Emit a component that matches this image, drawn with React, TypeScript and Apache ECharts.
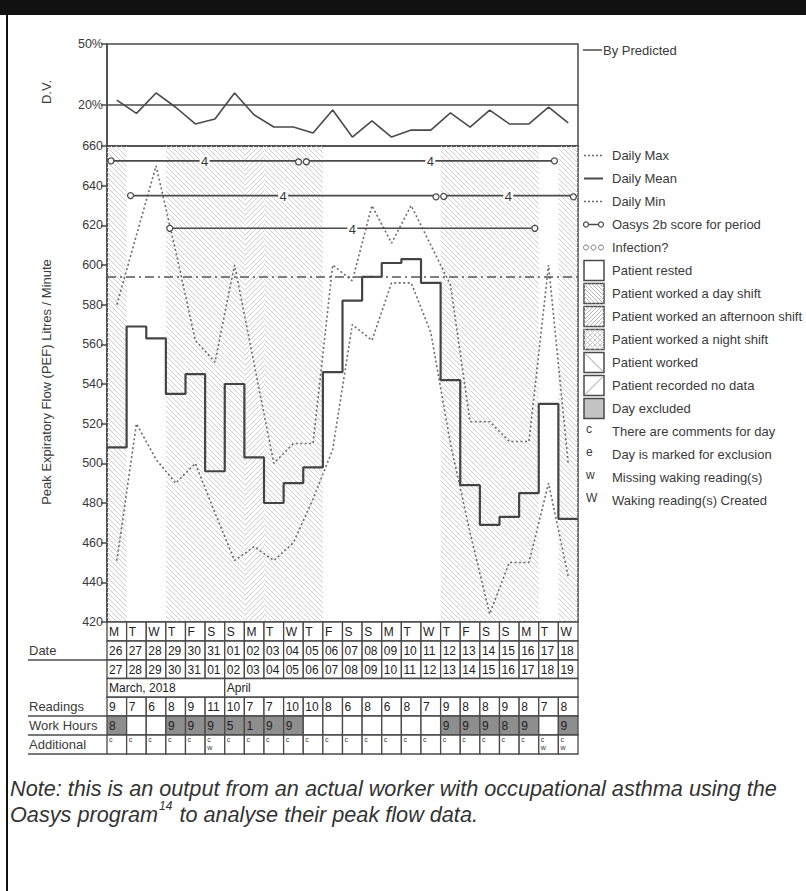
import React, { useEffect, useRef } from 'react';
import * as echarts from 'echarts';

// ---------- data ----------
const dayLetters = ['M','T','W','T','F','S','S','M','T','W','T','F','S','S','M','T','W','T','F','S','S','M','T','W'];
const dateFrom = ['26','27','28','29','30','31','01','02','03','04','05','06','07','08','09','10','11','12','13','14','15','16','17','18'];
const dateTo = ['27','28','29','30','31','01','02','03','04','05','06','07','08','09','10','11','12','13','14','15','16','17','18','19'];
const monthLabels = ['March, 2018', 'April'];
const monthStart = [0, 6];
const monthSpan = [6, 18];
const readings = [9,7,6,8,9,11,10,7,7,10,10,8,6,8,6,8,7,9,8,8,9,8,7,8];
const workHours: (number | null)[] = [8,null,null,9,9,9,5,1,9,9,null,null,null,null,null,null,null,9,9,9,8,9,null,9];
const additionalNotes = ['c','c','c','c','c','cw','c','c','c','c','c','c','c','c','c','c','c','c','c','c','c','c','cw','cw'];
const shifts = ['day','rest','rest','day','day','day','day','afternoon','day','day','day','rest','rest','rest','rest','rest','rest','day','day','day','day','day','rest','day'];
const dvPercent = [22.5,16,26,19,10.8,13.2,26,15.2,9.3,9.3,6.4,17.6,4.4,12.3,4.4,7.8,7.8,16.2,9.3,17.6,10.8,10.8,19.1,11.3];
const dailyMax = [580,615,650,607,562,551,600,550,500,510,510,600,592,630,611,630,610,590,521,521,511,511,600,500];
const dailyMean = [508,569,563,535,545,496,540,503,480,490,498,546,582,594,601,603,591,542,489,469,473,485,530,472];
const dailyMin = [451,520,502,490,500,475,451,458,451,460,482,507,570,562,591,591,566,510,465,424,450,450,490,443];
const oasysStart = [0.2, 10.15, 1.2, 17.15, 3.2];
const oasysEnd = [9.75, 22.8, 16.75, 23.75, 21.8];
const oasysLevel = [652.5, 652.5, 635, 635, 618.5];
const oasysScore = [4, 4, 4, 4, 4];
const thresholdPEF = 594;
const dvTicks = [20, 50];
const dvRefLine = 20;
const pefTicksMin = 420;
const pefTicksMax = 660;

// ---------- layout ----------
const L = 107, W = 471;
const TOP1 = 44, H1 = 102, TOP2 = 146, H2 = 476;
const ROWS = [622, 641, 660, 678.5, 697, 716, 735, 754];
const FONT = 'Liberation Sans, Arial, sans-serif';
const NOTE_FAMILY = '"Liberation Sans", Arial, sans-serif';
const INK = '#3a3a3a';
const LINE = '#4a4a4a';
const HATCH = '#cdcdcd';
const GAP = 5;
const NOTE_TARGET_W = 767;

function measure(text: string, font: string) {
  try {
    const ctx = document.createElement('canvas').getContext('2d')!;
    ctx.font = font;
    return ctx.measureText(text).width;
  } catch (e) {
    return text.length * 9;
  }
}

function hatch(x0: number, y0: number, x1: number, y1: number, dir: number, s: number, color = HATCH) {
  const out: any[] = [];
  if (dir === 1) {
    const ks = Math.ceil((y0 - x1) / s), ke = Math.floor((y1 - x0) / s);
    for (let k = ks; k <= ke; k++) {
      const c = k * s;
      const xa = Math.max(x0, y0 - c), xb = Math.min(x1, y1 - c);
      if (xb > xa) out.push({ type: 'line', silent: true, shape: { x1: xa, y1: xa + c, x2: xb, y2: xb + c }, style: { stroke: color, lineWidth: 1 } });
    }
  } else {
    const ks = Math.ceil((y0 + x0) / s), ke = Math.floor((y1 + x1) / s);
    for (let k = ks; k <= ke; k++) {
      const c = k * s;
      const xa = Math.max(x0, c - y1), xb = Math.min(x1, c - y0);
      if (xb > xa) out.push({ type: 'line', silent: true, shape: { x1: xa, y1: c - xa, x2: xb, y2: c - xb }, style: { stroke: color, lineWidth: 1 } });
    }
  }
  return out;
}

function txt(text: string, x: number, y: number, size = 13, extra: any = {}) {
  return { type: 'text', silent: true, x, y, style: { text, fill: INK, font: `${size}px ${FONT}`, textAlign: 'left', textVerticalAlign: 'middle', ...extra } };
}

function buildGraphic() {
  const g: any[] = [];
  g.push({ type: 'rect', shape: { x: 0, y: 0, width: 806, height: 15 }, style: { fill: '#111' } });
  g.push({ type: 'line', shape: { x1: 7, y1: 15, x2: 7, y2: 891 }, style: { stroke: '#111', lineWidth: 2 } });
  g.push(txt('D.V.', 46, 92, 13, { textAlign: 'center' }));
  g[g.length - 1].rotation = Math.PI / 2;
  g.push(txt('Peak Expiratory Flow (PEF) Litres / Minute', 46, 382, 13, { textAlign: 'center' }));
  g[g.length - 1].rotation = Math.PI / 2;
  const labelRows = [
    { t: 'Date', y: (ROWS[1] + ROWS[2]) / 2, u: ROWS[2] },
    { t: 'Readings', y: (ROWS[4] + ROWS[5]) / 2, u: ROWS[5] },
    { t: 'Work Hours', y: (ROWS[5] + ROWS[6]) / 2, u: ROWS[6] },
    { t: 'Additional', y: (ROWS[6] + ROWS[7]) / 2, u: ROWS[7] },
  ];
  labelRows.forEach(r => {
    g.push(txt(r.t, 29, r.y, 13));
    g.push({ type: 'line', shape: { x1: 28, y1: r.u, x2: L, y2: r.u }, style: { stroke: LINE, lineWidth: 1.5 } });
  });
  const LX = 584, TX = 612;
  g.push({ type: 'line', shape: { x1: 583, y1: 50, x2: 602, y2: 50 }, style: { stroke: LINE, lineWidth: 1.5 } });
  g.push(txt('By Predicted', 603, 50, 13));
  const y0 = 155.5, dy = 23;
  const ly = (k: number) => y0 + k * dy;
  g.push({ type: 'line', shape: { x1: 584, y1: ly(0), x2: 603, y2: ly(0) }, style: { stroke: '#666', lineWidth: 1.5, lineDash: [2, 2] } });
  g.push(txt('Daily Max', TX, ly(0)));
  g.push({ type: 'line', shape: { x1: 584, y1: ly(1), x2: 603, y2: ly(1) }, style: { stroke: LINE, lineWidth: 2 } });
  g.push(txt('Daily Mean', TX, ly(1)));
  g.push({ type: 'line', shape: { x1: 584, y1: ly(2), x2: 603, y2: ly(2) }, style: { stroke: '#666', lineWidth: 1.5, lineDash: [2, 2] } });
  g.push(txt('Daily Min', TX, ly(2)));
  g.push({ type: 'line', shape: { x1: 587, y1: ly(3), x2: 600, y2: ly(3) }, style: { stroke: LINE, lineWidth: 1.5 } });
  g.push({ type: 'circle', shape: { cx: 586, cy: ly(3), r: 2.5 }, style: { fill: '#fff', stroke: LINE, lineWidth: 1.2 } });
  g.push({ type: 'circle', shape: { cx: 601, cy: ly(3), r: 2.5 }, style: { fill: '#fff', stroke: LINE, lineWidth: 1.2 } });
  g.push(txt('Oasys 2b score for period', TX, ly(3)));
  [586, 593.5, 601].forEach(cx => g.push({ type: 'circle', shape: { cx, cy: ly(4), r: 2.5 }, style: { fill: '#fff', stroke: '#777', lineWidth: 1 } }));
  g.push(txt('Infection?', TX, ly(4)));
  const boxes = [
    { t: 'Patient rested', k: 'rest' },
    { t: 'Patient worked a day shift', k: 'day' },
    { t: 'Patient worked an afternoon shift', k: 'afternoon' },
    { t: 'Patient worked a night shift', k: 'night' },
    { t: 'Patient worked', k: 'worked' },
    { t: 'Patient recorded no data', k: 'nodata' },
    { t: 'Day excluded', k: 'excluded' },
  ];
  boxes.forEach((b, j) => {
    const cy = ly(5 + j);
    const bx0 = LX, bx1 = LX + 20, by0 = cy - 10, by1 = cy + 10;
    g.push({ type: 'rect', shape: { x: bx0, y: by0, width: 20, height: 20 }, style: { fill: b.k === 'excluded' ? '#c4c4c4' : '#fff', stroke: LINE, lineWidth: 1.5 } });
    if (b.k === 'day') g.push(...hatch(bx0, by0, bx1, by1, 1, 4, '#b5b5b5'));
    if (b.k === 'afternoon') g.push(...hatch(bx0, by0, bx1, by1, -1, 4, '#b5b5b5'));
    if (b.k === 'night') { g.push(...hatch(bx0, by0, bx1, by1, 1, 5, '#c5c5c5')); g.push(...hatch(bx0, by0, bx1, by1, -1, 5, '#c5c5c5')); }
    if (b.k === 'worked') g.push({ type: 'line', shape: { x1: bx0 + 1, y1: by0 + 1, x2: bx1 - 1, y2: by1 - 1 }, style: { stroke: '#999', lineWidth: 1 } });
    if (b.k === 'nodata') g.push({ type: 'line', shape: { x1: bx0 + 1, y1: by1 - 1, x2: bx1 - 1, y2: by0 + 1 }, style: { stroke: '#999', lineWidth: 1 } });
    g.push(txt(b.t, TX, cy));
  });
  const letters = [
    { l: 'c', t: 'There are comments for day' },
    { l: 'e', t: 'Day is marked for exclusion' },
    { l: 'w', t: 'Missing waking reading(s)' },
    { l: 'W', t: 'Waking reading(s) Created' },
  ];
  letters.forEach((r, j) => {
    const cy = ly(12 + j);
    g.push(txt(r.l, 586, cy - 3, 12));
    g.push(txt(r.t, TX, cy));
  });
  // note
  const n1 = 'Note: this is an output from an actual worker with occupational asthma using the';
  const n2a = 'Oasys program';
  const n2b = ' to analyse their peak flow data.';
  const base = measure(n1, `italic 20px ${NOTE_FAMILY}`);
  const size = Math.max(17, Math.min(22, 20 * NOTE_TARGET_W / (base || NOTE_TARGET_W)));
  const noteFont = `italic ${size.toFixed(2)}px ${NOTE_FAMILY}`;
  const supFont = `italic 12px ${NOTE_FAMILY}`;
  const wA = measure(n2a, noteFont);
  const wS = measure('14', supFont);
  const noteStyle = { fill: '#333', font: noteFont, textVerticalAlign: 'middle' };
  g.push({ type: 'text', x: 10, y: 788, style: { text: n1, ...noteStyle } });
  g.push({ type: 'text', x: 10, y: 814, style: { text: n2a, ...noteStyle } });
  g.push({ type: 'text', x: 10 + wA + 1, y: 806, style: { text: '14', fill: '#333', font: supFont, textVerticalAlign: 'middle' } });
  g.push({ type: 'text', x: 10 + wA + wS + 2, y: 814, style: { text: n2b, ...noteStyle } });
  return g;
}

function buildOption(): any {
  const dayIdx = dayLetters.map((_, i) => [i, pefTicksMin]);
  return {
    animation: false,
    grid: [
      { left: L, top: TOP1, width: W, height: H1, show: true, borderColor: LINE, borderWidth: 1.5, backgroundColor: 'transparent' },
      { left: L, top: TOP2, width: W, height: H2, show: true, borderColor: LINE, borderWidth: 1.5, backgroundColor: 'transparent' },
    ],
    xAxis: [
      { gridIndex: 0, type: 'value', min: 0, max: 24, show: false },
      { gridIndex: 1, type: 'value', min: 0, max: 24, show: false },
    ],
    yAxis: [
      {
        gridIndex: 0, type: 'value', min: 0, max: 50, interval: 10,
        axisLine: { show: true, lineStyle: { color: LINE, width: 1.5 } },
        axisTick: { show: true, customValues: dvTicks, length: 6, lineStyle: { color: LINE, width: 1.5 } },
        axisLabel: { customValues: dvTicks, formatter: (v: number) => (dvTicks.includes(v) ? `${v}%` : ''), color: INK, fontSize: 12.5, fontFamily: FONT, margin: 4 },
        splitLine: { show: false },
      },
      {
        gridIndex: 1, type: 'value', min: pefTicksMin, max: pefTicksMax, interval: 20,
        axisLine: { show: true, lineStyle: { color: LINE, width: 1.5 } },
        axisTick: { show: true, length: 6, lineStyle: { color: LINE, width: 1.5 } },
        axisLabel: { color: INK, fontSize: 12.5, fontFamily: FONT, margin: 4 },
        splitLine: { show: false },
      },
    ],
    series: [
      {
        type: 'line', xAxisIndex: 0, yAxisIndex: 0, z: 3,
        data: dvPercent.map((v, i) => [i + 0.5, v]),
        showSymbol: false, symbol: 'none',
        lineStyle: { color: LINE, width: 1.6 },
        markLine: { silent: true, symbol: 'none', label: { show: false }, lineStyle: { color: LINE, width: 1.5, type: 'solid' }, data: [{ yAxis: dvRefLine }] },
      },
      {
        type: 'custom', xAxisIndex: 1, yAxisIndex: 1, z: 1, clip: true,
        data: dayIdx,
        renderItem: (params: any, api: any) => {
          const i = api.value(0);
          const kind = shifts[params.dataIndex];
          const p0 = api.coord([i, pefTicksMax]);
          const p1 = api.coord([i + 1, pefTicksMin]);
          const ch: any[] = [];
          if (kind === 'day' || kind === 'night') ch.push(...hatch(p0[0], p0[1], p1[0], p1[1], 1, GAP));
          if (kind === 'afternoon' || kind === 'night') ch.push(...hatch(p0[0], p0[1], p1[0], p1[1], -1, GAP));
          return { type: 'group', children: ch };
        },
      },
      {
        type: 'line', xAxisIndex: 1, yAxisIndex: 1, z: 3, name: 'Daily Max',
        data: dailyMax.map((v, i) => [i + 0.5, v]), symbol: 'none',
        lineStyle: { color: '#6a6a6a', width: 1.6, type: [2, 2.5] },
      },
      {
        type: 'line', xAxisIndex: 1, yAxisIndex: 1, z: 3, name: 'Daily Min',
        data: dailyMin.map((v, i) => [i + 0.5, v]), symbol: 'none',
        lineStyle: { color: '#6a6a6a', width: 1.6, type: [2, 2.5] },
      },
      {
        type: 'line', xAxisIndex: 1, yAxisIndex: 1, z: 4, name: 'Daily Mean', step: 'end',
        data: dailyMean.map((v, i) => [i, v]).concat([[dailyMean.length, dailyMean[dailyMean.length - 1]]]),
        symbol: 'none',
        lineStyle: { color: '#444', width: 2.2 },
        markLine: { silent: true, symbol: 'none', label: { show: false }, lineStyle: { color: '#555', width: 1.6, type: [9, 4, 2, 4] }, data: [{ yAxis: thresholdPEF }] },
      },
      {
        type: 'custom', xAxisIndex: 1, yAxisIndex: 1, z: 5, name: 'Oasys',
        data: oasysStart.map((s, j) => [s, oasysLevel[j], oasysEnd[j]]),
        renderItem: (params: any, api: any) => {
          const j = params.dataIndex;
          const a = api.coord([api.value(0), api.value(1)]);
          const b = api.coord([api.value(2), api.value(1)]);
          const mx = (a[0] + b[0]) / 2;
          return {
            type: 'group', children: [
              { type: 'line', shape: { x1: a[0], y1: a[1], x2: b[0], y2: b[1] }, style: { stroke: LINE, lineWidth: 1.6 } },
              { type: 'rect', shape: { x: mx - 5, y: a[1] - 6, width: 10, height: 12 }, style: { fill: '#fff' } },
              { type: 'text', x: mx, y: a[1] + 1, style: { text: String(oasysScore[j]), fill: INK, font: `13px ${FONT}`, textAlign: 'center', textVerticalAlign: 'middle' } },
              { type: 'circle', shape: { cx: a[0], cy: a[1], r: 3 }, style: { fill: '#fff', stroke: LINE, lineWidth: 1.3 } },
              { type: 'circle', shape: { cx: b[0], cy: b[1], r: 3 }, style: { fill: '#fff', stroke: LINE, lineWidth: 1.3 } },
            ],
          };
        },
      },
      {
        type: 'custom', xAxisIndex: 1, yAxisIndex: 1, z: 5, name: 'Table', clip: false,
        data: dayIdx,
        renderItem: (params: any, api: any) => {
          const i = params.dataIndex;
          const xl = api.coord([api.value(0), pefTicksMin])[0];
          const xr = api.coord([api.value(0) + 1, pefTicksMin])[0];
          const w = xr - xl;
          const ch: any[] = [];
          const cell = (r: number, text: string, fill = '#fff') => {
            const y0 = ROWS[r], h = ROWS[r + 1] - ROWS[r];
            ch.push({ type: 'rect', shape: { x: xl, y: y0, width: w, height: h }, style: { fill, stroke: LINE, lineWidth: 1.3 } });
            if (text) ch.push({ type: 'text', x: xl + 2, y: y0 + h / 2 + 0.5, style: { text, fill: '#222', font: `12px ${FONT}`, textVerticalAlign: 'middle' } });
          };
          cell(0, dayLetters[i]);
          cell(1, dateFrom[i]);
          cell(2, dateTo[i]);
          cell(4, String(readings[i]));
          const wh = workHours[i];
          cell(5, wh == null ? '' : String(wh), wh == null ? '#fff' : '#8e8e8e');
          cell(6, '');
          const note = additionalNotes[i];
          ch.push({ type: 'text', x: xl + 2, y: ROWS[6] + 4, style: { text: note[0], fill: '#333', font: `7px ${FONT}`, textVerticalAlign: 'middle' } });
          if (note.length > 1) ch.push({ type: 'text', x: xl + 2, y: ROWS[6] + 12, style: { text: note[1], fill: '#333', font: `7px ${FONT}`, textVerticalAlign: 'middle' } });
          return { type: 'group', children: ch };
        },
      },
      {
        type: 'custom', xAxisIndex: 1, yAxisIndex: 1, z: 5, name: 'Months', clip: false,
        data: monthStart.map((s, j) => [s, pefTicksMin, s + monthSpan[j]]),
        renderItem: (params: any, api: any) => {
          const j = params.dataIndex;
          const xl = api.coord([api.value(0), pefTicksMin])[0];
          const xr = api.coord([api.value(2), pefTicksMin])[0];
          const y0 = ROWS[3], h = ROWS[4] - ROWS[3];
          return {
            type: 'group', children: [
              { type: 'rect', shape: { x: xl, y: y0, width: xr - xl, height: h }, style: { fill: '#fff', stroke: LINE, lineWidth: 1.3 } },
              { type: 'text', x: xl + 2, y: y0 + h / 2 + 0.5, style: { text: monthLabels[j], fill: '#222', font: `12px ${FONT}`, textVerticalAlign: 'middle' } },
            ],
          };
        },
      },
    ],
    graphic: buildGraphic(),
  };
}

export default function App() {
  const ref = useRef<HTMLDivElement>(null);
  useEffect(() => {
    const chart = echarts.init(ref.current!, null, { renderer: 'svg' });
    chart.setOption(buildOption());
    return () => chart.dispose();
  }, []);
  return <div ref={ref} style={{ position: 'absolute', left: 0, top: 0, width: 806, height: 891, background: '#fff' }} />;
}
